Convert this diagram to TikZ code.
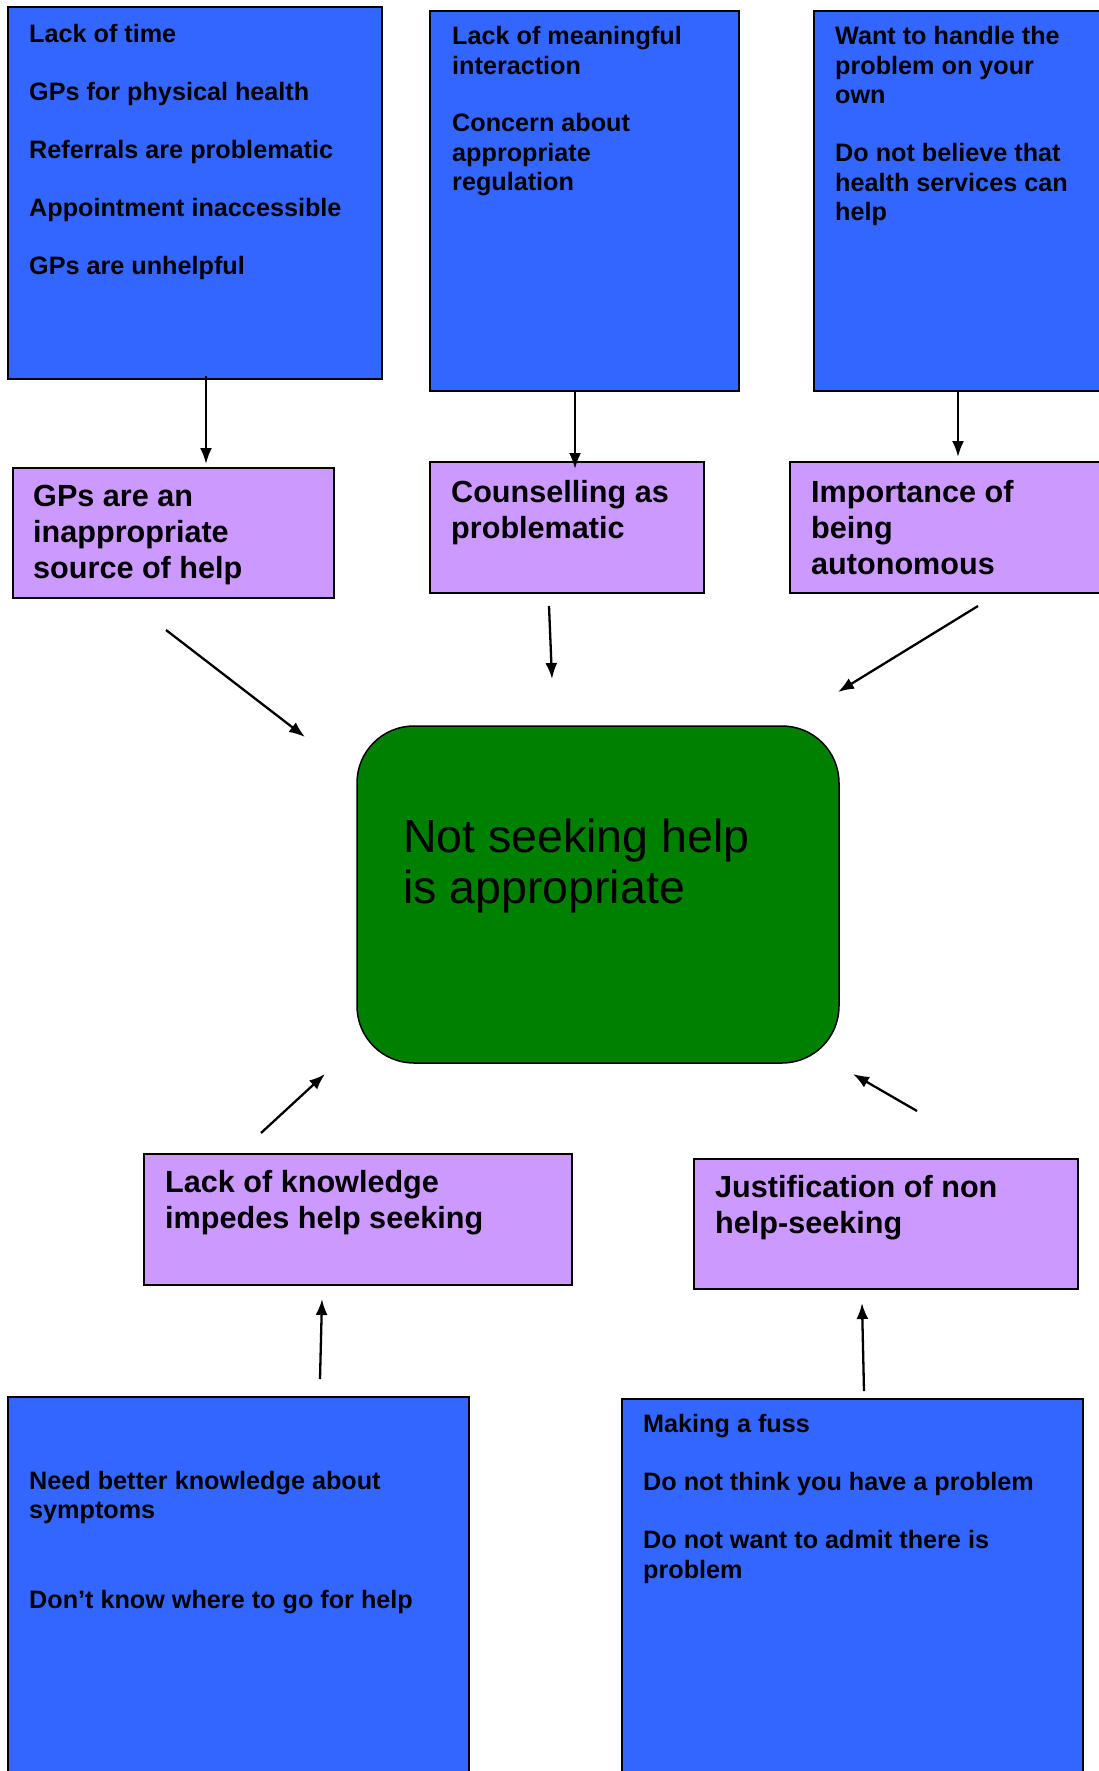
\documentclass[tikz,border=0pt]{standalone}
\usepackage{fontspec}
\setmainfont{Liberation Sans}
\usetikzlibrary{arrows.meta}
\definecolor{boxblue}{RGB}{51,102,255}
\definecolor{boxpurple}{RGB}{204,153,255}
\definecolor{boxgreen}{RGB}{0,128,0}
\tikzset{
  bluebox/.style={draw=black, line width=2pt, fill=boxblue, inner sep=0pt},
  purplebox/.style={draw=black, line width=2pt, fill=boxpurple, inner sep=0pt},
  centrebox/.style={draw=black, line width=1.5pt, fill=boxgreen, rounded corners=57pt, inner sep=0pt},
  smalltxt/.style={anchor=base west, inner sep=0pt, font=\bfseries\fontsize{25.2}{29.5}\selectfont},
  midtxt/.style={anchor=base west, inner sep=0pt, font=\bfseries\fontsize{30.6}{36}\selectfont},
  bigtxt/.style={anchor=base west, inner sep=0pt, font=\fontsize{46.5}{51}\selectfont},
  arr/.style={-{Latex[length=16pt,width=12pt]}, line width=2.3pt}
}
\newcommand{\pb}[1]{\parbox[t]{600pt}{\raggedright #1}}
\begin{document}
\begin{tikzpicture}[x=1pt,y=-1pt]
\clip (0,0) rectangle (1099,1771);
\fill[white] (0,0) rectangle (1099,1771);

% boxes
\draw[bluebox] (8,7) rectangle (382,379) node[pos=0.5] (b1) {};
\draw[bluebox] (430,11) rectangle (739,391) node[pos=0.5] (b2) {};
\draw[bluebox] (814,11) rectangle (1112,391) node[pos=0.5] (b3) {};
\draw[purplebox] (13,468) rectangle (334,598) node[pos=0.5] (p1) {};
\draw[purplebox] (430,462) rectangle (704,593) node[pos=0.5] (p2) {};
\draw[purplebox] (790,462) rectangle (1112,593) node[pos=0.5] (p3) {};
\draw[centrebox] (357,726) rectangle (839,1063) node[pos=0.5] (c) {};
\draw[purplebox] (144,1154) rectangle (572,1285) node[pos=0.5] (p4) {};
\draw[purplebox] (694,1159) rectangle (1078,1289) node[pos=0.5] (p5) {};
\draw[bluebox] (8,1397) rectangle (469,1790) node[pos=0.5] (b4) {};
\draw[bluebox] (622,1399) rectangle (1083,1790) node[pos=0.5] (b5) {};

% texts
\node[smalltxt] (t1) at (29,42.7) {\pb{Lack of time\\[28.5pt]GPs for physical health\\[28.5pt]Referrals are problematic\\[28.5pt]Appointment inaccessible\\[28.5pt]GPs are unhelpful}};
\node[smalltxt] (t2) at (452,45) {\pb{Lack of meaningful\\interaction\\[28pt]Concern about\\appropriate\\regulation}};
\node[smalltxt] (t3) at (835,45) {\pb{Want to handle the\\problem on your\\own\\[28.5pt]Do not believe that\\health services can\\help}};
\node[midtxt] (tp1) at (33,506) {\pb{GPs are an\\inappropriate\\source of help}};
\node[midtxt] (tp2) at (451,502) {\pb{Counselling as\\problematic}};
\node[midtxt] (tp3) at (811,502) {\pb{Importance of\\being\\autonomous}};
\node[bigtxt] (tc) at (403,852) {\pb{Not seeking help\\is appropriate}};
\node[midtxt] (tp4) at (165,1192) {\pb{Lack of knowledge\\impedes help seeking}};
\node[midtxt] (tp5) at (715,1197) {\pb{Justification of non\\help-seeking}};
\node[smalltxt] (t4) at (29,1489) {\pb{Need better knowledge about\\symptoms\\[60.5pt]Don’t know where to go for help}};
\node[smalltxt] (t5) at (643,1432) {\pb{Making a fuss\\[29pt]Do not think you have a problem\\[28.5pt]Do not want to admit there is\\problem}};

% connector end points
\coordinate (a1s) at (206,376); \coordinate (a1e) at (206,464);
\coordinate (a2s) at (575,391); \coordinate (a2e) at (575,469);
\coordinate (a3s) at (958,391); \coordinate (a3e) at (958,457);
\coordinate (a4s) at (166,630); \coordinate (a4e) at (305,737);
\coordinate (a5s) at (549,606); \coordinate (a5e) at (552,679);
\coordinate (a6s) at (978,606); \coordinate (a6e) at (838,692);
\coordinate (a7s) at (261,1133); \coordinate (a7e) at (325,1074);
\coordinate (a8s) at (917,1111); \coordinate (a8e) at (853,1074);
\coordinate (a9s) at (320,1379); \coordinate (a9e) at (322,1299);
\coordinate (a10s) at (864,1391); \coordinate (a10e) at (862,1303);

\draw[arr] (a1s) -- (a1e);
\draw[arr] (a2s) -- (a2e);
\draw[arr] (a3s) -- (a3e);
\draw[arr] (a4s) -- (a4e);
\draw[arr] (a5s) -- (a5e);
\draw[arr] (a6s) -- (a6e);
\draw[arr] (a7s) -- (a7e);
\draw[arr] (a8s) -- (a8e);
\draw[arr] (a9s) -- (a9e);
\draw[arr] (a10s) -- (a10e);
\end{tikzpicture}
\end{document}
